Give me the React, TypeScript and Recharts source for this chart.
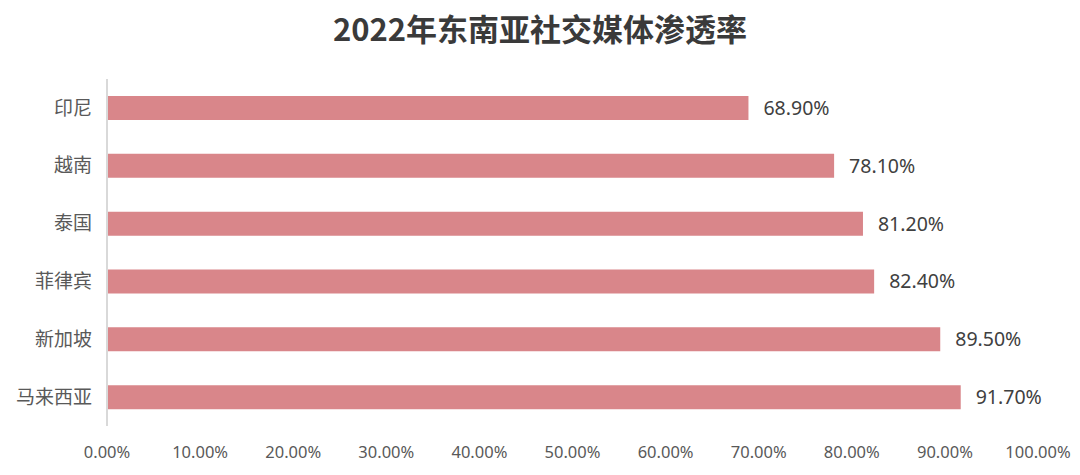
import React from "react";
import { BarChart, Bar, XAxis, YAxis, LabelList } from "recharts";

const countries = ["印尼", "越南", "泰国", "菲律宾", "新加坡", "马来西亚"];
const penetration = [0.689, 0.781, 0.812, 0.824, 0.895, 0.917];
const xTicks = [0, 0.1, 0.2, 0.3, 0.4, 0.5, 0.6, 0.7, 0.8, 0.9, 1.0];
const title = "2022年东南亚社交媒体渗透率";

const data = countries.map((c, i) => ({ name: c, value: penetration[i] }));

const pct = (v: number) => (v * 100).toFixed(2) + "%";

export default function App() {
  return (
    <div
      style={{
        position: "absolute",
        left: 0,
        top: 0,
        width: 1080,
        height: 475,
        background: "#fff",
        fontFamily: "'Noto Sans', 'Noto Sans CJK SC', sans-serif",
      }}
    >
      <div
        style={{
          position: "absolute",
          top: 6,
          left: 0,
          width: 1080,
          textAlign: "center",
          fontSize: 31,
          fontWeight: 700,
          color: "#3a3a3a",
          lineHeight: "44px",
          fontFamily: "'Noto Sans CJK SC', sans-serif",
        }}
      >
        {title}
      </div>
      <BarChart
        width={1080}
        height={475}
        data={data}
        layout="vertical"
        margin={{ top: 79, right: 42, bottom: 19, left: 0 }}
        barCategoryGap={0}
      >
        <XAxis
          type="number"
          domain={[0, 1]}
          ticks={xTicks}
          tickFormatter={pct}
          axisLine={false}
          tickLine={false}
          tickMargin={14}
          height={30}
          interval={0}
          tick={{ fill: "#595959", fontSize: 16.5, fontFamily: "'Noto Sans', sans-serif" }}
        />
        <YAxis
          type="category"
          dataKey="name"
          width={107}
          axisLine={{ stroke: "#d9d9d9", strokeWidth: 2 }}
          tickLine={false}
          tickMargin={9}
          tick={{ fill: "#595959", fontSize: 19, fontFamily: "'Noto Sans CJK SC', sans-serif" }}
        />
        <Bar dataKey="value" fill="#d9868a" barSize={24} isAnimationActive={false}>
          <LabelList
            dataKey="value"
            position="right"
            offset={15}
            formatter={(v: any) => pct(Number(v))}
            style={{ fill: "#404040", fontSize: 19.5, fontFamily: "'Noto Sans', sans-serif" }}
          />
        </Bar>
      </BarChart>
    </div>
  );
}
